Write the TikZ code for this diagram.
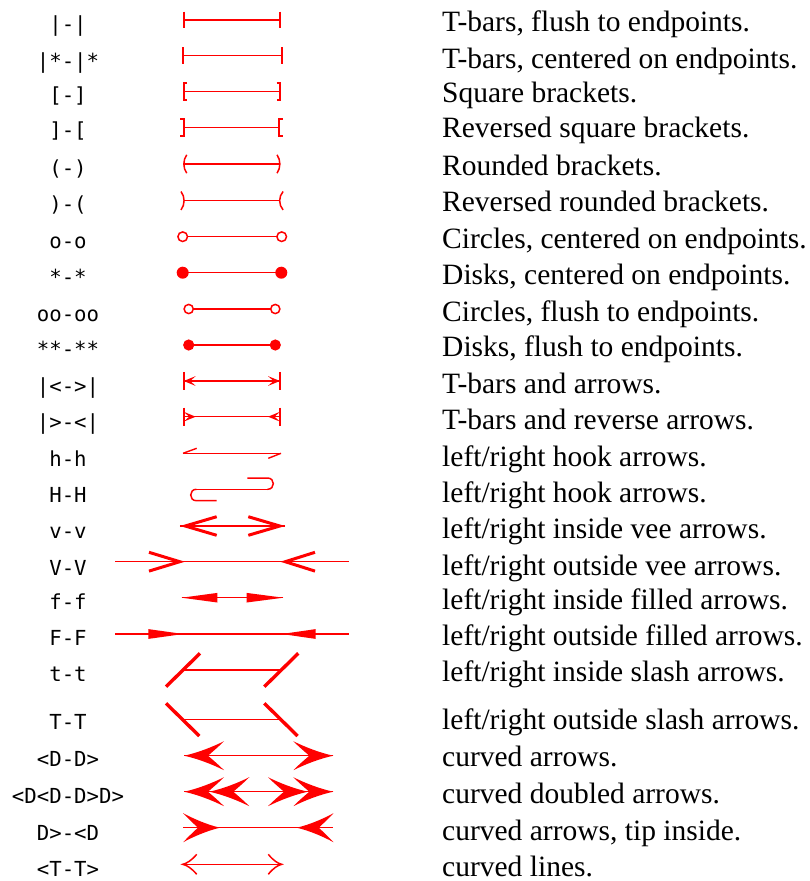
\documentclass[tikz,border=0pt]{standalone}
\usepackage{fontspec}
\setmainfont{Liberation Serif}
\newfontfamily\monof{DejaVu Sans Mono}
\begin{document}
\begin{tikzpicture}[x=1pt,y=-1pt,
  lbl/.style={font=\monof\fontsize{20.7}{24}\selectfont, inner sep=0, anchor=base},
  desc/.style={font=\fontsize{29.5}{34}\selectfont, inner sep=0, anchor=base west},
  ln/.style={draw=red, line width=1.4pt},
  barl/.style={draw=red, line width=1.8pt},
  brk/.style={draw=red, line width=1.8pt, line join=miter},
  thickv/.style={draw=red, line width=3pt, line join=miter},
  slashl/.style={draw=red, line width=3.4pt},
  hk/.style={draw=red, line width=1.5pt},
  ring/.style={draw=red, line width=1.5pt, fill=white},
  dhead/.pic={\fill[red] (0,0) .. controls (14,-3) and (29,-9) .. (40,-14.5)
      .. controls (34,-8.5) and (28,-3.5) .. (24,0)
      .. controls (28,3.5) and (34,8.5) .. (40,14.5)
      .. controls (29,9) and (14,3) .. (0,0) -- cycle;},
  ahead/.pic={\fill[red] (0,0) -- (12,-4.9) -- (6.5,0) -- (12,4.9) -- cycle;}
]
\useasboundingbox (0,0) rectangle (809,881);

% ---------- labels ----------
\node[lbl] (l1)  at (68,31.8)  {|-|};
\node[lbl] (l2)  at (68,68)    {|*-|*};
\node[lbl] (l3)  at (68,102.5) {[-]};
\node[lbl] (l4)  at (68,137)   {]-[};
\node[lbl] (l5)  at (68,175.5) {(-)};
\node[lbl] (l6)  at (68,211.5) {)-(};
\node[lbl] (l7)  at (68,248.5) {o-o};
\node[lbl] (l8)  at (68,284.5) {*-*};
\node[lbl] (l9)  at (68,321.7) {oo-oo};
\node[lbl] (l10) at (68,356.7) {**-**};
\node[lbl] (l11) at (68,393)   {|<->|};
\node[lbl] (l12) at (68,429)   {|>-<|};
\node[lbl] (l13) at (68,466)   {h-h};
\node[lbl] (l14) at (68,502)   {H-H};
\node[lbl] (l15) at (68,538.3) {v-v};
\node[lbl] (l16) at (68,575)   {V-V};
\node[lbl] (l17) at (68,609)   {f-f};
\node[lbl] (l18) at (68,645.3) {F-F};
\node[lbl] (l19) at (68,681.7) {t-t};
\node[lbl] (l20) at (68,729.5) {T-T};
\node[lbl] (l21) at (68,766)   {<D-D>};
\node[lbl] (l22) at (68,803.3) {<D<D-D>D>};
\node[lbl] (l23) at (68,840.3) {D>-<D};
\node[lbl] (l24) at (68,876)   {<T-T>};

\node[desc] (r1)  at (442,31.8)  {T-bars, flush to endpoints.};
\node[desc] (r2)  at (442,68)    {T-bars, centered on endpoints.};
\node[desc] (r3)  at (442,102.5) {Square brackets.};
\node[desc] (r4)  at (442,137)   {Reversed square brackets.};
\node[desc] (r5)  at (442,175.5) {Rounded brackets.};
\node[desc] (r6)  at (442,211.5) {Reversed rounded brackets.};
\node[desc] (r7)  at (442,248.5) {Circles, centered on endpoints.};
\node[desc] (r8)  at (442,284.5) {Disks, centered on endpoints.};
\node[desc] (r9)  at (442,321.7) {Circles, flush to endpoints.};
\node[desc] (r10) at (442,356.7) {Disks, flush to endpoints.};
\node[desc] (r11) at (442,393)   {T-bars and arrows.};
\node[desc] (r12) at (442,429)   {T-bars and reverse arrows.};
\node[desc] (r13) at (442,466)   {left/right hook arrows.};
\node[desc] (r14) at (442,502)   {left/right hook arrows.};
\node[desc] (r15) at (442,538.3) {left/right inside vee arrows.};
\node[desc] (r16) at (442,575)   {left/right outside vee arrows.};
\node[desc] (r17) at (442,609)   {left/right inside filled arrows.};
\node[desc] (r18) at (442,645.3) {left/right outside filled arrows.};
\node[desc] (r19) at (442,681.7) {left/right inside slash arrows.};
\node[desc] (r20) at (442,729.5) {left/right outside slash arrows.};
\node[desc] (r21) at (442,766)   {curved arrows.};
\node[desc] (r22) at (442,803.3) {curved doubled arrows.};
\node[desc] (r23) at (442,840.3) {curved arrows, tip inside.};
\node[desc] (r24) at (442,876)   {curved lines.};

% ---------- 1 |-| ----------
\coordinate (a1) at (183.7,20); \coordinate (b1) at (280,20);
\draw[ln] (a1) -- (b1);
\draw[barl] (a1) ++(0,-8.3) -- ++(0,16.6);
\draw[barl] (b1) ++(0,-8.3) -- ++(0,16.6);

% ---------- 2 |*-|* ----------
\coordinate (a2) at (182.7,55.7); \coordinate (b2) at (281.7,55.7);
\draw[ln] (a2) -- (b2);
\draw[barl] (a2) ++(0,-8.3) -- ++(0,16.6);
\draw[barl] (b2) ++(0,-8.3) -- ++(0,16.6);

% ---------- 3 [-] ----------
\coordinate (a3) at (183.7,91.7); \coordinate (b3) at (280,91.7);
\draw[ln] (a3) -- (b3);
\draw[brk] (a3) ++(3.4,-8.4) -- ++(-3.4,0) -- ++(0,16.8) -- ++(3.4,0);
\draw[brk] (b3) ++(-3.4,-8.4) -- ++(3.4,0) -- ++(0,16.8) -- ++(-3.4,0);

% ---------- 4 ]-[ ----------
\coordinate (a4) at (183.7,127.3); \coordinate (b4) at (279.3,127.3);
\draw[ln] (a4) -- (b4);
\draw[brk] (a4) ++(-3.6,-8.4) -- ++(3.6,0) -- ++(0,16.8) -- ++(-3.6,0);
\draw[brk] (b4) ++(3.6,-8.4) -- ++(-3.6,0) -- ++(0,16.8) -- ++(3.6,0);

% ---------- 5 (-) ----------
\coordinate (a5) at (183.7,164); \coordinate (b5) at (280,164);
\draw[ln] (a5) -- (b5);
\draw[hk, shift={(a5)}] (3,-9.2) .. controls (-0.8,-4) and (-0.8,4) .. (3,9.2);
\draw[hk, shift={(b5)}] (-3,-9.2) .. controls (0.8,-4) and (0.8,4) .. (-3,9.2);

% ---------- 6 )-( ----------
\coordinate (a6) at (184.3,200.7); \coordinate (b6) at (279.3,200.7);
\draw[ln] (a6) -- (b6);
\draw[hk, shift={(a6)}] (-3.3,-9.2) .. controls (0.8,-4) and (0.8,4) .. (-3.3,9.2);
\draw[hk, shift={(b6)}] (3.8,-9.2) .. controls (-0.8,-4) and (-0.8,4) .. (3.8,9.2);

% ---------- 7 o-o ----------
\coordinate (a7) at (182.7,236.7); \coordinate (b7) at (281.7,236.7);
\draw[ln] (a7) -- (b7);
\draw[ring] (a7) circle[radius=4.8pt];
\draw[ring] (b7) circle[radius=4.8pt];

% ---------- 8 *-* ----------
\coordinate (a8) at (182.7,272.7); \coordinate (b8) at (281.3,272.7);
\draw[ln] (a8) -- (b8);
\fill[red] (a8) circle[radius=6pt];
\fill[red] (b8) circle[radius=6pt];

% ---------- 9 oo-oo ----------
\coordinate (a9) at (188.7,309); \coordinate (b9) at (275.3,309);
\draw[ln] (a9) -- (b9);
\draw[ring] (a9) circle[radius=4.6pt];
\draw[ring] (b9) circle[radius=4.6pt];

% ---------- 10 **-** ----------
\coordinate (a10) at (188.7,345); \coordinate (b10) at (275.3,345);
\draw[ln] (a10) -- (b10);
\fill[red] (a10) circle[radius=5.6pt];
\fill[red] (b10) circle[radius=5.6pt];

% ---------- 11 |<->| ----------
\coordinate (a11) at (183.7,381); \coordinate (b11) at (280,381);
\draw[ln] (a11) -- (b11);
\draw[barl] (a11) ++(0,-9.2) -- ++(0,18.4);
\draw[barl] (b11) ++(0,-9.2) -- ++(0,18.4);
\pic at (a11) {ahead};
\pic[xscale=-1] at (b11) {ahead};

% ---------- 12 |>-<| ----------
\coordinate (a12) at (183.7,416.7); \coordinate (b12) at (280,416.7);
\coordinate (e12) at (195.7,416.7); \coordinate (f12) at (268,416.7);
\draw[ln] (a12) -- (b12);
\draw[barl] (a12) ++(0,-9.2) -- ++(0,18.4);
\draw[barl] (b12) ++(0,-9.2) -- ++(0,18.4);
\pic[xscale=-1] at (e12) {ahead};
\pic at (f12) {ahead};

% ---------- 13 h-h ----------
\coordinate (a13) at (183,453.3); \coordinate (b13) at (281,453.3);
\draw[ln] (a13) -- (b13);
\draw[ln] (a13) -- ++(13.7,-5);
\draw[ln] (b13) -- ++(-12.7,5);

% ---------- 14 H-H ----------
\coordinate (a14) at (196.4,489.3); \coordinate (b14) at (267.6,489.3);
\draw[hk] (a14) -- (b14);
\draw[hk, shift={(a14)}] (0,0) .. controls (-7.6,0) and (-7.6,11.4) .. (0,11.4) -- (20.3,11.4);
\draw[hk, shift={(b14)}] (0,0) .. controls (7.6,0) and (7.6,-11.3) .. (0,-11.3) -- (-20.3,-11.3);

% ---------- 15 v-v ----------
\coordinate (a15) at (180,526); \coordinate (b15) at (285,526);
\draw[ln] (a15) -- (b15);
\draw[thickv, shift={(a15)}] (36.7,-9.3) -- (5.2,0) -- (36.7,9.3);
\draw[thickv, shift={(b15)}] (-36.7,-9.3) -- (-5.2,0) -- (-36.7,9.3);

% ---------- 16 V-V ----------
\coordinate (c16) at (115,561.7); \coordinate (d16) at (349,561.7);
\coordinate (a16) at (185,561.7); \coordinate (b16) at (280,561.7);
\draw[ln] (c16) -- (d16);
\draw[thickv, shift={(a16)}] (-36,-9.4) -- (-5.2,0) -- (-36,9.4);
\draw[thickv, shift={(b16)}] (35,-9.4) -- (5.2,0) -- (35,9.4);

% ---------- 17 f-f ----------
\coordinate (a17) at (181.7,597.7); \coordinate (b17) at (283.3,597.7);
\draw[ln] (a17) -- (b17);
\fill[red, shift={(a17)}] (0,0) -- (35.6,-4.8) -- (35.6,4.8) -- cycle;
\fill[red, shift={(b17)}] (0,0) -- (-36.6,-4.8) -- (-36.6,4.8) -- cycle;

% ---------- 18 F-F ----------
\coordinate (c18) at (115,634); \coordinate (d18) at (349,634);
\coordinate (a18) at (183.3,634); \coordinate (b18) at (281.7,634);
\draw[ln] (c18) -- (d18);
\fill[red, shift={(a18)}] (0,0) -- (-35,-4.9) -- (-35,4.9) -- cycle;
\fill[red, shift={(b18)}] (0,0) -- (34,-4.9) -- (34,4.9) -- cycle;

% ---------- 19 t-t ----------
\coordinate (a19) at (183,670); \coordinate (b19) at (281.3,670);
\draw[ln] (a19) -- (b19);
\draw[slashl] (a19) ++(-17,16.7) -- ++(34,-33.4);
\draw[slashl] (b19) ++(-17,16.7) -- ++(34,-33.4);

% ---------- 20 T-T ----------
\coordinate (a20) at (182.7,719.7); \coordinate (b20) at (281,719.7);
\draw[ln] (a20) -- (b20);
\draw[slashl] (a20) ++(-16.7,-16.4) -- ++(33.3,32.7);
\draw[slashl] (b20) ++(-16.7,-16.4) -- ++(33.3,32.7);

% ---------- 21 <D-D> ----------
\coordinate (a21) at (184,755.7); \coordinate (b21) at (333.3,755.7);
\draw[ln] (a21) -- (b21);
\pic at (a21) {dhead};
\pic[xscale=-1] at (b21) {dhead};

% ---------- 22 <D<D-D>D> ----------
\coordinate (a22) at (184,791.7); \coordinate (b22) at (333.3,791.7);
\coordinate (e22) at (209.3,791.7); \coordinate (f22) at (308,791.7);
\draw[ln] (a22) -- (b22);
\pic at (a22) {dhead};
\pic at (e22) {dhead};
\pic[xscale=-1] at (f22) {dhead};
\pic[xscale=-1] at (b22) {dhead};

% ---------- 23 D>-<D ----------
\coordinate (a23) at (183.3,827.7); \coordinate (b23) at (333.3,827.7);
\coordinate (e23) at (220,827.7); \coordinate (f23) at (296.7,827.7);
\draw[ln] (a23) -- (b23);
\pic[xscale=-0.92] at (e23) {dhead};
\pic[xscale=0.92] at (f23) {dhead};

% ---------- 24 <T-T> ----------
\coordinate (a24) at (182.7,864.3); \coordinate (b24) at (281.7,864.3);
\draw[ln] (a24) -- (b24);
\draw[hk, shift={(a24)}] (14,-10) .. controls (9,-4) and (4,-0.8) .. (0,0) .. controls (4,0.8) and (9,4) .. (14,10);
\draw[hk, shift={(b24)}] (-13.4,-10) .. controls (-8.6,-4) and (-3.8,-0.8) .. (0,0) .. controls (-3.8,0.8) and (-8.6,4) .. (-13.4,10);
\end{tikzpicture}
\end{document}
